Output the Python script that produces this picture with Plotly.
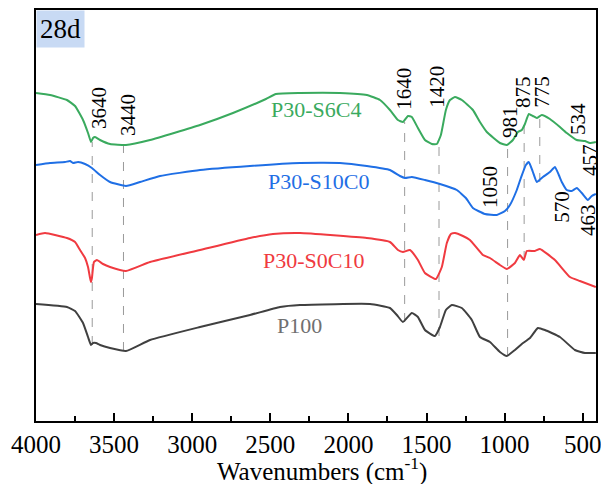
import plotly.graph_objects as go

# ---- data (wavenumber cm-1, transmittance a.u. with vertical offsets) ----
g_x = [4000, 3910, 3802, 3750, 3699, 3667, 3648, 3635, 3622, 3590, 3526, 3424, 3270, 2950, 2739, 2528, 2464,
       2310, 2054, 1882, 1798, 1734, 1683, 1651, 1619, 1594, 1555, 1510, 1466, 1434, 1408, 1376, 1350, 1318,
       1274, 1203, 1158, 1114, 1030, 986, 947, 915, 890, 870, 845, 819, 794, 762, 710, 646, 602, 538, 486, 454, 416]
g_y = [328, 326, 321, 315, 301, 288, 279, 283, 284, 281, 277, 276, 281, 296, 308, 322, 327,
       328, 328, 326, 321, 311, 301, 299, 305, 304, 293, 281, 277, 277, 286, 311, 321, 324,
       321, 311, 299, 289, 278, 276, 281, 289, 291, 297, 307, 305, 303, 306, 302, 294, 288, 281, 280, 278, 279]

b_x = [4000, 3910, 3814, 3782, 3763, 3731, 3686, 3642, 3590, 3526, 3424, 3334, 3206, 2950, 2630, 2310, 2054,
       1882, 1734, 1670, 1638, 1594, 1510, 1414, 1306, 1248, 1203, 1126, 1050, 998, 966, 922, 896, 864, 845,
       819, 794, 755, 710, 678, 653, 634, 602, 570, 538, 506, 467, 442, 416]
b_y = [256, 258, 259, 260, 258, 259, 257, 253, 246, 239, 235, 239, 245, 251, 255, 258, 258,
       255, 251, 245, 243, 244, 241, 237, 231, 223, 213, 207, 206, 210, 216, 231, 243, 256, 259,
       249, 239, 244, 249, 254, 246, 239, 231, 230, 233, 228, 221, 225, 227]

r_x = [4000, 3942, 3802, 3750, 3718, 3686, 3667, 3654, 3648, 3642, 3629, 3610, 3571, 3526, 3424, 3270, 2950,
       2630, 2483, 2310, 1882, 1734, 1683, 1651, 1606, 1555, 1510, 1440, 1402, 1370, 1344, 1318, 1267, 1222,
       1139, 1094, 1030, 986, 934, 902, 877, 858, 806, 774, 678, 582, 518, 416]
r_y = [186, 188, 183, 179, 171, 163, 154, 143, 139, 143, 159, 161, 157, 154, 150, 159, 171,
       183, 187, 188, 183, 179, 171, 169, 171, 161, 148, 142, 154, 178, 187, 188, 185, 181,
       166, 163, 156, 152, 158, 166, 161, 170, 170, 172, 161, 144, 140, 134]

k_x = [4000, 3802, 3750, 3699, 3667, 3648, 3635, 3616, 3590, 3526, 3424, 3270, 2950, 2630, 2438, 2310, 1862,
       1734, 1690, 1651, 1594, 1555, 1510, 1446, 1414, 1376, 1338, 1274, 1210, 1158, 1094, 1030, 986, 934,
       890, 838, 787, 742, 646, 550, 486, 416]
k_y = [117, 114, 110, 98, 84, 76, 78, 78, 76, 73, 70, 81, 94, 106, 114, 116, 117,
       113, 106, 99, 108, 104, 91, 85, 94, 111, 116, 113, 101, 84, 79, 69, 65, 71,
       77, 83, 93, 91, 84, 71, 68, 68]

series_names = ["P30-S6C4", "P30-S10C0", "P30-S0C10", "P100"]
series_colors = ["#3aaa5e", "#1f6fe5", "#f03a40", "#404040"]
label_colors = ["#3aaa5e", "#1f6fe5", "#f03a40", "#707070"]
label_x = [2208, 2189, 2221, 2310]
label_y = [312, 240, 161, 96]

# dashed guide lines: wavenumber, top, bottom
guide_x = [3640, 3440, 1640, 1420, 981, 875, 775]
guide_top = [279, 276, 299, 277, 276, 297, 304]
guide_bot = [76, 70, 99, 85, 65, 161, 239]

# peak labels: text, x, y (bottom of rotated text)
peak_text = ["3640", "3440", "1640", "1420", "981", "875", "775", "534", "457", "1050", "570", "463"]
peak_x = [3597, 3411, 1645, 1434, 966, 883, 762, 531, 454, 1094, 634, 467]
peak_y = [290, 283, 309, 311, 281, 311, 311, 284, 243, 211, 196, 183]

fig = go.Figure()
xs = [g_x, b_x, r_x, k_x]
ys = [g_y, b_y, r_y, k_y]
for i in range(4):
    fig.add_trace(go.Scatter(x=xs[i], y=ys[i], mode="lines", name=series_names[i],
                             line=dict(color=series_colors[i], width=2, shape="spline", smoothing=0.4),
                             showlegend=False))

for gx, gt, gb in zip(guide_x, guide_top, guide_bot):
    fig.add_shape(type="line", xref="x", yref="y", x0=gx, x1=gx, y0=gb, y1=gt,
                  line=dict(color="#9a9a9a", width=1, dash="dash"), layer="below")

serif = "Liberation Serif"
for t, px, py in zip(peak_text, peak_x, peak_y):
    fig.add_annotation(x=px, y=py, text=t, textangle=-90, showarrow=False,
                       xanchor="center", yanchor="bottom",
                       font=dict(family=serif, size=21, color="black"))

for i in range(4):
    fig.add_annotation(x=label_x[i], y=label_y[i], text=series_names[i], showarrow=False,
                       xanchor="center", yanchor="middle",
                       font=dict(family=serif, size=22, color=label_colors[i]))

fig.add_annotation(xref="paper", yref="paper", x=0, y=1, text="28d", showarrow=False,
                   xanchor="left", yanchor="top", bgcolor="#c8daf4", borderpad=3,
                   font=dict(family=serif, size=27, color="black"))

# x-axis title placed below tick labels
fig.add_annotation(xref="paper", yref="paper", x=0.51, y=-0.076, text="Wavenumbers (cm<sup>-1</sup>)",
                   showarrow=False, xanchor="center", yanchor="top", borderpad=0,
                   font=dict(family=serif, size=25, color="black"))

fig.update_layout(
    width=601, height=484,
    margin=dict(l=36, r=5, t=10, b=63, autoexpand=False),
    paper_bgcolor="white", plot_bgcolor="white",
    font=dict(family=serif, color="black"),
)
fig.update_xaxes(range=[4000, 415], tick0=500, dtick=500, ticks="inside", ticklen=8, tickwidth=1.5,
                 tickcolor="black", ticklabeloverflow="allow",
                 minor=dict(ticks="inside", ticklen=5, tick0=500, dtick=250, tickcolor="black", tickwidth=1.5),
                 showline=True, linecolor="black", linewidth=2, mirror=True, showgrid=False, zeroline=False,
                 tickfont=dict(family=serif, size=25, color="black"))
fig.update_yaxes(range=[0, 411], showticklabels=False, ticks="", showline=True, linecolor="black",
                 linewidth=2, mirror=True, showgrid=False, zeroline=False)

fig.write_html("out.html")
